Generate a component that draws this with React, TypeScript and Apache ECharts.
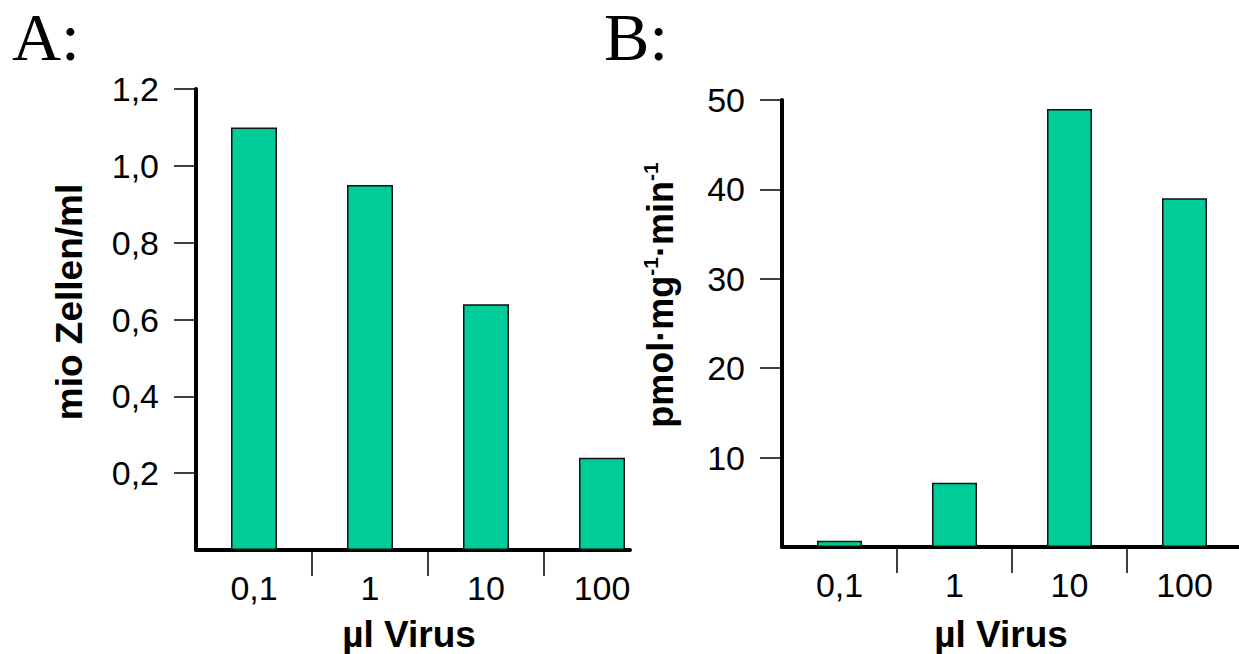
import React, { useEffect, useRef } from "react";
import * as echarts from "echarts";

const categories = ["0,1", "1", "10", "100"];
const cellsValues = [1.1, 0.95, 0.64, 0.24];
const activityValues = [0.7, 7.2, 49.0, 39.0];
const ticksA = [0.2, 0.4, 0.6, 0.8, 1.0, 1.2];
const ticksB = [10, 20, 30, 40, 50];
const yTitleA = "mio Zellen/ml";
const xTitle = "µl Virus";

const FONT = '"Liberation Sans", Arial, sans-serif';
const BAR = "#00CC99";

export default function App() {
  const ref = useRef<HTMLDivElement>(null);
  useEffect(() => {
    if (!ref.current) return;
    const chart = echarts.init(ref.current, null, { renderer: "svg" });
    const pos = categories.map((_, i) => i + 0.5);
    const bounds = categories.slice(1).map((_, i) => i + 1);
    const catLabel = (v: number) => {
      const idx = Math.round(v - 0.5);
      return Math.abs(v - 0.5 - idx) < 1e-6 && categories[idx] !== undefined ? categories[idx] : "";
    };
    const makeX = (gridIndex: number, max: number) => ({
      type: "value",
      gridIndex,
      min: 0,
      max,
      splitLine: { show: false },
      axisLine: { show: true, lineStyle: { color: "#000", width: 4 } },
      axisTick: { show: true, length: 26, customValues: bounds, lineStyle: { color: "#000", width: 1.5 } },
      axisLabel: {
        show: true,
        customValues: pos,
        formatter: (v: number) => catLabel(v),
        color: "#000",
        fontSize: 34,
        fontFamily: FONT,
        margin: 21,
      },
    });
    const makeY = (gridIndex: number, max: number, interval: number, ticks: number[], fmt: (v: number) => string) => ({
      type: "value",
      gridIndex,
      min: 0,
      max,
      interval,
      splitLine: { show: false },
      axisLine: { show: true, lineStyle: { color: "#000", width: 4 } },
      axisTick: { show: true, length: 22, customValues: ticks, lineStyle: { color: "#000", width: 1.5 } },
      axisLabel: {
        show: true,
        customValues: ticks,
        formatter: fmt,
        color: "#000",
        fontSize: 34,
        fontFamily: FONT,
        margin: 37,
      },
    });
    chart.setOption({
      animation: false,
      backgroundColor: "#fff",
      grid: [
        { left: 196, top: 89, width: 434, height: 461 },
        { left: 782, top: 100, width: 457, height: 447 },
      ],
      xAxis: [makeX(0, 434 / 116), makeX(1, 457 / 115)],
      yAxis: [
        makeY(0, 1.2, 0.2, ticksA, (v: number) => (v === 0 ? "" : v.toFixed(1).replace(".", ","))),
        makeY(1, 50, 10, ticksB, (v: number) => (v === 0 ? "" : String(v))),
      ],
      series: [
        {
          type: "bar",
          xAxisIndex: 0,
          yAxisIndex: 0,
          barWidth: 46,
          data: cellsValues.map((v, i) => [pos[i], v]),
          itemStyle: { color: BAR, borderColor: "#111", borderWidth: 1.5 },
        },
        {
          type: "bar",
          xAxisIndex: 1,
          yAxisIndex: 1,
          barWidth: 45,
          data: activityValues.map((v, i) => [pos[i], v]),
          itemStyle: { color: BAR, borderColor: "#111", borderWidth: 1.5 },
        },
      ],
      graphic: [
        {
          type: "text",
          x: 12,
          y: 37,
          style: { text: "A:", font: '68px "Liberation Serif", "Times New Roman", serif', fill: "#000", align: "left", verticalAlign: "middle" },
        },
        {
          type: "text",
          x: 604,
          y: 37,
          style: { text: "B:", font: '68px "Liberation Serif", "Times New Roman", serif', fill: "#000", align: "left", verticalAlign: "middle" },
        },
        {
          type: "text",
          x: 69,
          y: 302,
          rotation: Math.PI / 2,
          style: { text: yTitleA, font: `bold 37px ${FONT}`, fill: "#000", align: "center", verticalAlign: "middle" },
        },
        {
          type: "text",
          x: 660,
          y: 295,
          rotation: Math.PI / 2,
          style: {
            text: "{n|pmol·mg}{s|-1}{n|·min}{s|-1}",
            fill: "#000",
            align: "center",
            verticalAlign: "middle",
            rich: {
              n: { fontSize: 36, fontWeight: "bold", fontFamily: FONT, fill: "#000", lineHeight: 40 },
              s: { fontSize: 21, fontWeight: "bold", fontFamily: FONT, fill: "#000", verticalAlign: "top", lineHeight: 40 },
            },
          },
        },
        {
          type: "text",
          x: 409,
          y: 634,
          style: { text: xTitle, font: `bold 37px ${FONT}`, fill: "#000", align: "center", verticalAlign: "middle" },
        },
        {
          type: "text",
          x: 1001,
          y: 634,
          style: { text: xTitle, font: `bold 37px ${FONT}`, fill: "#000", align: "center", verticalAlign: "middle" },
        },
      ],
    });
    return () => chart.dispose();
  }, []);
  return <div ref={ref} style={{ position: "fixed", left: 0, top: 0, width: 1239, height: 654 }} />;
}
